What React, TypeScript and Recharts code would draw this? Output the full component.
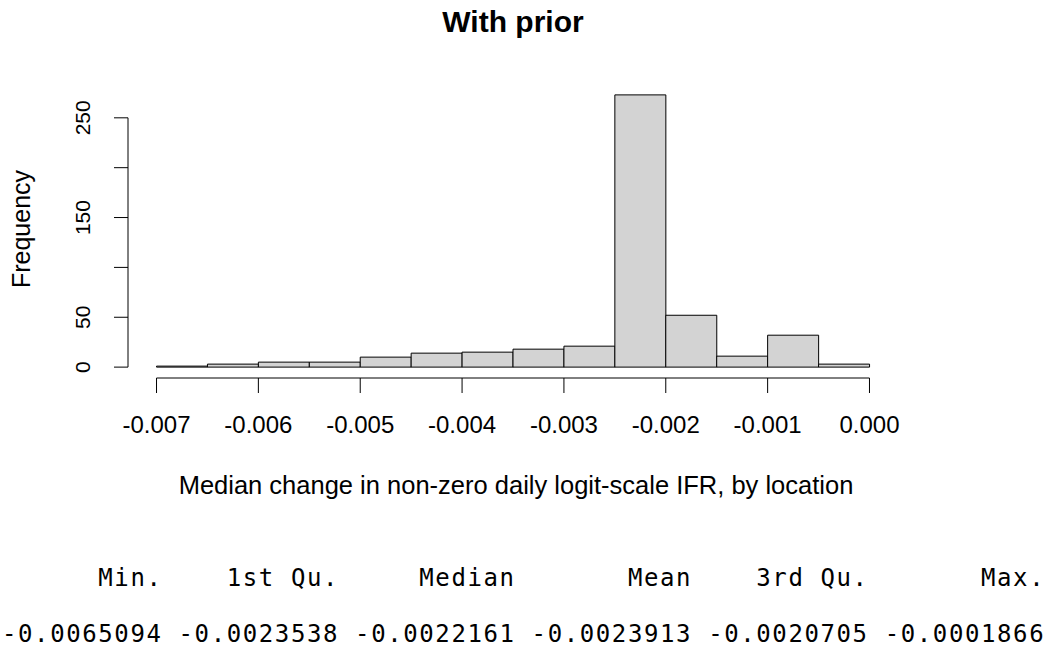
import { ComposedChart, Bar, XAxis, YAxis, ReferenceLine } from 'recharts';

// histogram bins (midpoints, width 0.0005) and counts
const binMids = [
  -0.00675, -0.00625, -0.00575, -0.00525, -0.00475, -0.00425, -0.00375,
  -0.00325, -0.00275, -0.00225, -0.00175, -0.00125, -0.00075, -0.00025,
];
const counts = [1, 3, 5, 5, 10, 14, 15, 18, 21, 273, 52, 11, 32, 3];

const xTicks = [-0.007, -0.006, -0.005, -0.004, -0.003, -0.002, -0.001, 0];
const yTicks = [0, 50, 100, 150, 200, 250];
const yTickLabels = [0, 50, 150, 250];

const statLabels = ['Min.', '1st Qu.', 'Median', 'Mean', '3rd Qu.', 'Max.'];
const statValues = ['-0.0065094', '-0.0023538', '-0.0022161', '-0.0023913', '-0.0020705', '-0.0001866'];

const W = 1053;
const H = 650;
const SANS = '"Liberation Sans", Arial, Helvetica, sans-serif';
const MONO = '"DejaVu Sans Mono", "Liberation Mono", monospace';

// R style axis ranges: data range padded by 4% each side
const xLo = -0.007 - 0.00028;
const xHi = 0 + 0.00028;
const yMax = Math.max(...counts);
const yLo = -0.04 * yMax;
const yHi = yMax * 1.04;

const data = binMids.map((mid, i) => ({ mid, count: counts[i] }));

// summary() output: right aligned columns of width 10
const headerLine = statLabels.map((s) => s.padStart(10, ' ')).join(' ');
const valueLine = statValues.map((s) => s.padStart(10, ' ')).join(' ');

const YTick = (props: any) => {
  const { x, y, payload } = props;
  if (!yTickLabels.includes(payload.value)) return null;
  return (
    <text
      x={x}
      y={y}
      transform={`rotate(-90, ${x}, ${y})`}
      textAnchor="middle"
      fontSize={21}
      fontFamily={SANS}
      fill="#000"
    >
      {payload.value}
    </text>
  );
};

export default function App() {
  return (
    <div style={{ position: 'absolute', left: 0, top: 0, width: W, height: H, background: '#fff' }}>
      <ComposedChart
        width={W}
        height={H}
        data={data}
        margin={{ top: 84, right: 155, bottom: 212, left: 0 }}
        barCategoryGap={0}
        barGap={0}
      >
        <XAxis
          type="number"
          dataKey="mid"
          domain={[xLo, xHi]}
          allowDataOverflow
          ticks={xTicks}
          interval={0}
          axisLine={false}
          tickSize={15}
          tickMargin={23}
          height={60}
          tickLine={{ stroke: '#000', strokeWidth: 1 }}
          tick={{ fontSize: 24, fill: '#000', fontFamily: SANS }}
          tickFormatter={(v: number) => v.toFixed(3)}
        />
        <YAxis
          type="number"
          domain={[yLo, yHi]}
          allowDataOverflow
          ticks={yTicks}
          interval={0}
          axisLine={false}
          tickSize={14}
          tickMargin={24}
          width={128}
          tickLine={{ stroke: '#000', strokeWidth: 1 }}
          tick={<YTick />}
        />
        <Bar
          dataKey="count"
          fill="#d3d3d3"
          stroke="#000"
          strokeWidth={1}
          isAnimationActive={false}
        />
        {/* axis lines only span the first to last tick, as in base R */}
        <ReferenceLine
          segment={[{ x: xTicks[0], y: yLo }, { x: xTicks[xTicks.length - 1], y: yLo }]}
          stroke="#000"
          strokeWidth={1}
          ifOverflow="visible"
        />
        <ReferenceLine
          segment={[{ x: xLo, y: yTicks[0] }, { x: xLo, y: yTicks[yTicks.length - 1] }]}
          stroke="#000"
          strokeWidth={1}
          ifOverflow="visible"
        />
      </ComposedChart>

      <svg
        width={W}
        height={H}
        style={{ position: 'absolute', left: 0, top: 0, pointerEvents: 'none' }}
      >
        <text x={513} y={32} textAnchor="middle" fontSize={30} fontWeight="bold" fontFamily={SANS} fill="#000">
          With prior
        </text>
        <text x={516} y={494} textAnchor="middle" fontSize={25.5} fontFamily={SANS} fill="#000">
          Median change in non-zero daily logit-scale IFR, by location
        </text>
        <text
          x={30}
          y={229}
          transform="rotate(-90, 30, 229)"
          textAnchor="middle"
          fontSize={25}
          fontFamily={SANS}
          fill="#000"
        >
          Frequency
        </text>
        <text x={2} y={586} fontSize={24} letterSpacing={1.6} fontFamily={MONO} fill="#000" style={{ whiteSpace: 'pre' }}>
          {headerLine}
        </text>
        <text x={2} y={642} fontSize={24} letterSpacing={1.6} fontFamily={MONO} fill="#000" style={{ whiteSpace: 'pre' }}>
          {valueLine}
        </text>
      </svg>
    </div>
  );
}
